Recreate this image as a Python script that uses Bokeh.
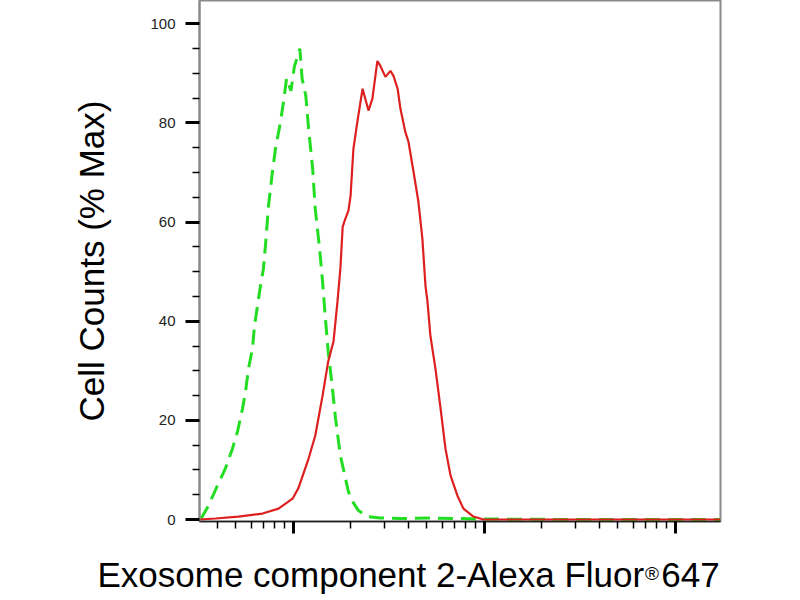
from bokeh.plotting import figure
from bokeh.embed import file_html
from bokeh.resources import INLINE
from bokeh.models import Range1d, FixedTicker, LogAxis

# isotype control (green, dashed)
control_x = [3.26, 3.59, 4.00, 4.40, 4.79, 5.09, 5.41, 5.61, 5.81, 6.10,
             6.25, 6.48, 6.72, 6.96, 7.13, 7.40, 7.76, 8.05, 8.55, 8.87,
             9.20, 9.70, 10.1, 10.8, 11.1, 11.6, 12.0, 12.6, 13.0, 13.7,
             14.2, 14.7, 15.2, 16.0, 16.6, 17.6, 19.4, 20.4, 21.9, 24.4,
             28.5, 36.3, 52.1, 74.8, 95.3, 300, 1722]
control_y = [0, 2.8, 6.9, 10.3, 14.3, 17.7, 22.4, 25.8, 30.4, 34.5,
             39.1, 43.1, 47.2, 50.6, 55.2, 63.3, 70.2, 74.8, 80.2, 84.3,
             89.0, 86.5, 91.3, 95.0, 88.9, 85.5, 78.8, 70.8, 62.7, 54.6,
             48.0, 40.5, 33.9, 26.4, 20.4, 12.9, 5.6, 3.6, 1.8, 0.6,
             0.3, 0.2, 0.3, 0.2, 0.1, 0, 0]

# stained sample (red, solid)
sample_x = [3.22, 3.91, 5.15, 6.88, 8.35, 9.89, 10.6, 12.0, 13.0, 14.2,
            15.2, 16.2, 17.0, 17.6, 18.1, 18.7, 19.4, 19.9, 20.6, 21.6,
            23.0, 24.7, 25.9, 27.5, 28.5, 30.3, 32.2, 33.4, 35.1, 36.3,
            38.5, 40.0, 42.5, 45.1, 47.3, 49.1, 50.3, 52.1, 55.4, 58.9,
            62.5, 66.4, 72.2, 77.6, 87.5, 98.8, 1722]
sample_y = [0, 0.2, 0.6, 1.2, 2.2, 4.2, 6.3, 12.3, 16.9, 25.0,
            31.9, 35.9, 44.0, 50.6, 59.1, 60.7, 62.3, 65.3, 74.8, 80.2,
            86.9, 82.5, 84.9, 92.5, 91.5, 89.3, 90.5, 89.5, 86.9, 82.9,
            78.2, 76.2, 70.2, 64.1, 56.7, 47.2, 44.0, 37.1, 30.4, 22.4,
            14.3, 8.9, 4.8, 2.2, 0.6, 0, 0]

y_ticks = [0, 20, 40, 60, 80, 100]
y_minor = [5, 10, 15, 25, 30, 35, 45, 50, 55, 65, 70, 75, 85, 90, 95]
x_ticks = [10, 100, 1000]
x_minor = [4, 5, 6, 7, 8, 9,
           20, 30, 40, 50, 60, 70, 80, 90,
           200, 300, 400, 500, 600, 700, 800, 900]

# x title is split so that the (R) can be a small superscript
x_title = {25.4: "Exosome component 2-Alexa Fluor", 1198: "647"}
x_title_mark = {753: "\u00ae"}
y_title = "Cell Counts (% Max)"

FONT = "Liberation Sans"

p = figure(width=800, height=600, x_axis_type="log",
           x_range=Range1d(3.22, 1722), y_range=Range1d(-0.4, 104.7),
           toolbar_location=None, tools="", output_backend="svg",
           min_border_left=199, min_border_right=80,
           min_border_top=0, min_border_bottom=79)

p.grid.visible = False
p.outline_line_color = "#8a8a8a"
p.outline_line_width = 2

p.line(control_x, control_y, color="#22dd22", line_width=3, line_dash="15 8")
p.line(sample_x, sample_y, color="#dd1f1f", line_width=2.2)

# y axis
yax = p.yaxis[0]
yax.ticker = FixedTicker(ticks=y_ticks, minor_ticks=y_minor)
yax.axis_line_color = "#8a8a8a"
yax.axis_line_width = 2
yax.major_tick_in = 0
yax.major_tick_out = 14
yax.major_tick_line_width = 3
yax.minor_tick_in = 0
yax.minor_tick_out = 7
yax.minor_tick_line_width = 1.5
yax.major_label_text_font = FONT
yax.major_label_text_font_size = "15px"
yax.major_label_text_color = "#222222"
yax.major_label_standoff = 10
yax.axis_label = y_title
yax.axis_label_text_font = FONT
yax.axis_label_text_font_size = "35px"
yax.axis_label_text_font_style = "normal"
yax.axis_label_text_color = "black"
yax.axis_label_standoff = 36

# x axis, ticks only
xax = p.xaxis[0]
xax.ticker = FixedTicker(ticks=x_ticks, minor_ticks=x_minor)
xax.axis_line_color = "#222222"
xax.axis_line_width = 1.5
xax.major_tick_in = 0
xax.major_tick_out = 12
xax.major_tick_line_width = 3
xax.minor_tick_in = 0
xax.minor_tick_out = 7
xax.minor_tick_line_width = 1.5
xax.major_label_text_font_size = "8px"
xax.major_label_text_alpha = 0
xax.major_label_standoff = 0


def text_axis(labels, size, standoff):
    ax = LogAxis(ticker=FixedTicker(ticks=list(labels.keys()), minor_ticks=[]),
                 major_label_overrides=labels)
    ax.axis_line_color = None
    ax.major_tick_line_color = None
    ax.minor_tick_line_color = None
    ax.major_tick_in = 0
    ax.major_tick_out = 0
    ax.major_label_text_font = FONT
    ax.major_label_text_font_size = size
    ax.major_label_text_color = "black"
    ax.major_label_standoff = standoff
    p.add_layout(ax, "below")
    return ax


text_axis(x_title, "35px", 21)
text_axis(x_title_mark, "19px", -34)

open("out.html", "w").write(file_html(p, INLINE))
